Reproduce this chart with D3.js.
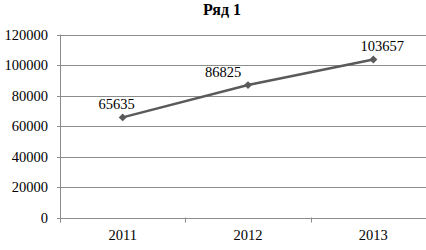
<!DOCTYPE html>
<html>
<head>
<meta charset="utf-8">
<script src="https://cdn.jsdelivr.net/npm/d3@7"></script>
<style>
body{margin:0;background:#fff;}
svg text{font-family:"Liberation Serif","Times New Roman",serif;fill:#000;}
</style>
</head>
<body>
<div id="chart"></div>
<script>
// data
var years = ["2011","2012","2013"];
var values = [65635, 86825, 103657];
var yTicks = [0,20000,40000,60000,80000,100000,120000];
var title = "Ряд 1";

var W = 426, H = 250;
var svg = d3.select("#chart").append("svg").attr("width",W).attr("height",H);

// plot area runs a little past the right edge, like the original
// (don't call it "top", that's window.top)
var pLeft = 60, pRight = 436, pTop = 34.5, pBottom = 217.5;

var x = d3.scaleBand().domain(years).range([pLeft,pRight]);
var y = d3.scaleLinear().domain([0,120000]).range([pBottom,pTop]);

// title
svg.append("text").text(title).attr("x",222).attr("y",15)
    .attr("text-anchor","middle").attr("style","font-weight:bold;font-size:16px;");

// gridlines
svg.append("g").selectAll("line").data(yTicks).enter().append("line")
    .attr("x1",pLeft-3).attr("x2",pRight)
    .attr("y1",(d) => Math.round(y(d))+0.5).attr("y2",(d) => Math.round(y(d))+0.5)
    .attr("stroke","#8c8c8c").attr("stroke-width",1);

// y labels
svg.append("g").selectAll("text").data(yTicks).enter().append("text")
    .text((d) => d).attr("x",48).attr("y",(d) => y(d)+5)
    .attr("text-anchor","end").attr("style","font-size:14.5px;");

// left axis
svg.append("line").attr("x1",pLeft+0.5).attr("x2",pLeft+0.5).attr("y1",pTop).attr("y2",pBottom+5)
    .attr("stroke","#8c8c8c");

// x ticks at band boundaries
var bounds = years.map((d) => x(d)).concat([pRight]);
svg.append("g").selectAll("line").data(bounds).enter().append("line")
    .attr("x1",(d) => Math.round(d)+0.5).attr("x2",(d) => Math.round(d)+0.5)
    .attr("y1",pBottom).attr("y2",pBottom+5).attr("stroke","#8c8c8c");

// x labels
svg.append("g").selectAll("text").data(years).enter().append("text")
    .text((d) => d).attr("x",(d) => x(d)+x.bandwidth()/2).attr("y",240)
    .attr("text-anchor","middle").attr("style","font-size:14.5px;");

// the line
var pts = years.map((d,i) => ({yr:d, v:values[i]}));
var line = d3.line().x((d) => x(d.yr)+x.bandwidth()/2).y((d) => y(d.v));
svg.append("path").datum(pts).attr("d",line)
    .attr("fill","none").attr("stroke","#5a5a5a").attr("stroke-width",2.5);

// diamond markers
svg.append("g").selectAll("path").data(pts).enter().append("path")
    .attr("d",d3.symbol().type(d3.symbolDiamond2).size(40))
    .attr("transform",(d) => "translate(" + (x(d.yr)+x.bandwidth()/2) + "," + y(d.v) + ")")
    .attr("fill","#5a5a5a");

// data labels (excel nudges them a bit)
var labelShift = [-6,-25,9];
svg.append("g").selectAll("text").data(pts).enter().append("text")
    .text((d) => d.v)
    .attr("x",(d,i) => x(d.yr)+x.bandwidth()/2+labelShift[i])
    .attr("y",(d) => y(d.v)-8)
    .attr("text-anchor","middle").attr("style","font-size:14.5px;");
</script>
</body>
</html>
